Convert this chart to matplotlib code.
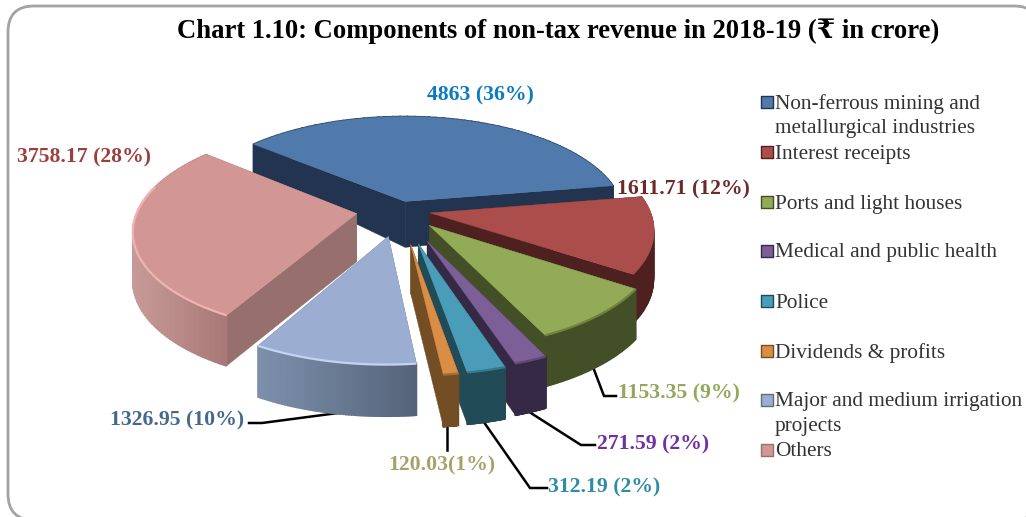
import numpy as np
import matplotlib
matplotlib.use('Agg')
import matplotlib.pyplot as plt
from matplotlib.colors import to_rgb
from matplotlib.patches import FancyBboxPatch

# chart values
names = ['Non-ferrous mining and\nmetallurgical industries', 'Interest receipts',
         'Ports and light houses', 'Medical and public health', 'Police',
         'Dividends & profits', 'Major and medium irrigation\nprojects', 'Others']
values = [4863, 1611.71, 1153.35, 271.59, 312.19, 120.03, 1326.95, 3758.17]
value_text = ['4863', '1611.71', '1153.35', '271.59', '312.19', '120.03', '1326.95', '3758.17']
percents = [36, 12, 9, 2, 2, 1, 10, 28]

# styles
top_colors = ['#4f7aab', '#ab4d4b', '#93aa57', '#7d5f97', '#4a9db8', '#da8d45', '#9badd0', '#d29794']
face_colors = ['#22344f', '#4f2020', '#434f26', '#362945', '#224b58', '#734d24', '#5c6c86', '#97706e']
side_left = ['#22344f', '#4f2020', '#434f26', '#362945', '#224b58', '#734d24', '#7d90ab', '#c79a98']
side_right = ['#22344f', '#4f2020', '#434f26', '#362945', '#224b58', '#734d24', '#55637a', '#a87876']
rim_colors = ['#4f7aab', '#ab4d4b', '#6f8240', '#5e4873', '#38788c', '#a66c33', '#c3d4f2', '#efb3b0']
label_colors = ['#0b7bbf', '#6e2a2a', '#92a85a', '#7030a0', '#2f8ca8', '#a8a26a', '#44688f', '#9c3f3c']
explode = [0.09, 0.14, 0.2, 0.32, 0.33, 0.33, 0.26, 0.2]
draw_order = [0, 7, 1, 2, 6, 3, 4, 5]

# label placement (left edge, centre y) in picture pixels
label_x = [427, 617, 618, 597, 548, 388, 110, 17]
label_y = [95, 189, 393, 444, 487, 465, 420, 157]
legend_y = [102, 152, 202, 251, 301, 351, 400, 450]
legend_text_y = [116, 154, 204, 253, 303, 353, 414, 452]
leaders = [
    ([249, 262, 338], [423, 423, 413]),
    ([447, 447], [423, 450]),
    ([481, 530, 547], [418, 488, 488]),
    ([523, 581, 595], [408, 445, 445]),
    ([593, 604, 616], [367, 396, 396]),
]

# pie geometry in pixels
cx, cy = 400, 210
rx, ry = 219, 100
persp = 0.15
start_angle = 140

serif = ['Liberation Serif', 'DejaVu Serif', 'DejaVu Sans']


def project(u, v):
    s = 1 / (1 + persp * v)
    return cx + rx * u * s, cy - ry * v * s


def depth(v):
    return np.where(v > 0, 48 * (1 - 0.5 * v), 48 * (1 - 0.06 * v))


def mix(a, b, t):
    a, b = np.array(to_rgb(a)), np.array(to_rgb(b))
    return tuple(a + (b - a) * t)


def draw_slice(ax, i, a0, a1):
    mid = np.radians((a0 + a1) / 2)
    ou, ov = explode[i] * np.cos(mid), explode[i] * np.sin(mid)
    th = np.radians(np.linspace(a0, a1, 60))
    u = ou + np.cos(th)
    v = ov + np.sin(th)
    x, y = project(u, v)
    d = depth(v)
    ax_, ay_ = project(ou, ov)
    da = float(depth(np.array(ov)))

    # radial cut faces, the farther one first
    e0 = (x[0], y[0], d[0])
    e1 = (x[-1], y[-1], d[-1])
    ends = [e0, e1] if v[0] > v[-1] else [e1, e0]
    for ex, ey, ed in ends:
        ax.fill([ax_, ex, ex, ax_], [ay_, ey, ey + ed, ay_ + da],
                color=face_colors[i], lw=0.3, zorder=2)

    # outer wall, shaded piece by piece from left to right
    xmin, xmax = x.min(), x.max()
    for k in range(len(x) - 1):
        t = ((x[k] + x[k + 1]) / 2 - xmin) / max(xmax - xmin, 1)
        c = mix(side_left[i], side_right[i], t)
        ax.fill([x[k], x[k + 1], x[k + 1], x[k]],
                [y[k], y[k + 1], y[k + 1] + d[k + 1], y[k] + d[k]],
                color=c, lw=1.2, zorder=2)

    # top
    ax.fill(np.r_[ax_, x], np.r_[ay_, y], color=top_colors[i], lw=0.3, zorder=2)
    front = v < 0.25
    ax.plot(x[front], y[front], color=rim_colors[i], lw=1.6, zorder=2, solid_capstyle='butt')


fig = plt.figure(figsize=(10.26, 5.17), dpi=100)
ax = fig.add_axes([0, 0, 1, 1])
ax.set_xlim(0, 1026)
ax.set_ylim(517, 0)
ax.axis('off')

ax.add_patch(FancyBboxPatch((8, 6), 1032, 514, boxstyle='round,pad=0,rounding_size=26',
                            fc='white', ec='#a3a3a3', lw=2, zorder=1))

ax.text(558, 31, 'Chart 1.10: Components of non-tax revenue in 2018-19 (₹ in crore)',
        ha='center', va='center', fontsize=19.2, fontweight='bold', family=serif, color='black')

sweep = np.array(values) / sum(values) * 360
ends = start_angle - np.cumsum(sweep)
starts = ends + sweep
for i in draw_order:
    draw_slice(ax, i, starts[i], ends[i])

for lx, ly in leaders:
    ax.plot(lx, ly, color='black', lw=1.8, zorder=1.5, solid_joinstyle='miter')

for i in range(len(values)):
    ax.text(label_x[i], label_y[i], f'{value_text[i]} ({percents[i]}%)' if i != 5 else f'{value_text[i]}({percents[i]}%)',
            color=label_colors[i], ha='left', va='center', fontsize=15.7, fontweight='bold',
            family=serif, zorder=4)
    ax.scatter([767], [legend_y[i]], marker='s', s=75, color=top_colors[i],
               edgecolor=face_colors[i], lw=1, zorder=4)
    ax.text(775, legend_text_y[i], names[i], ha='left', va='center', fontsize=15.3,
            family=serif, color='#333333', linespacing=1.39, zorder=4)

fig.savefig('out.png', dpi=100)
